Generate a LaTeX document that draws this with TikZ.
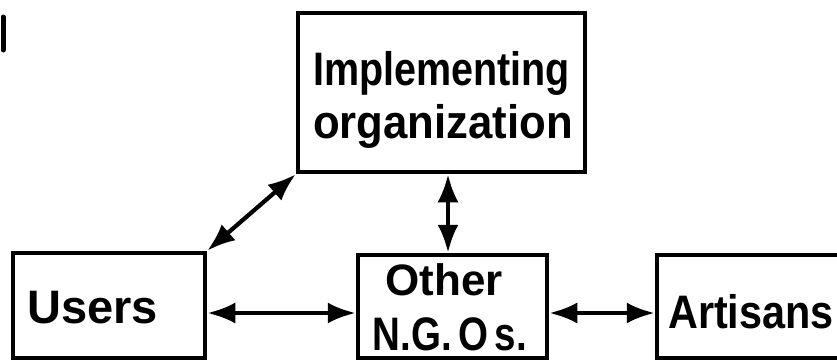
\documentclass[tikz,border=0pt]{standalone}
\usepackage{fontspec}
\newfontfamily\boxfont{Liberation Sans}
\usetikzlibrary{arrows.meta}
\begin{document}
\begin{tikzpicture}[x=1pt,y=1pt,
  box/.style={draw, line width=4.5pt, inner sep=0pt},
  lbl/.style={inner sep=0pt, font=\boxfont\bfseries\fontsize{47}{47}\selectfont},
  arr/.style={line width=4.2pt,
    {Latex[length=28pt,width=21pt]}-{Latex[length=28pt,width=21pt]}}]
\useasboundingbox (0,0) rectangle (837,360);
\clip (0,0) rectangle (837,360);

% boxes
\node[box, minimum width=287pt, minimum height=159pt] (impl) at (441.5,267.5) {};
\node[box, minimum width=192pt, minimum height=105pt] (users) at (109,54.5) {};
\node[box, minimum width=189pt, minimum height=103pt] (other) at (452.5,53.5) {};
\node[box, minimum width=213pt, minimum height=103pt] (art) at (763.5,53.5) {};

% labels
\node[lbl, anchor=base] (implA) at (441.5,275) {\scalebox{0.84}[1]{Implementing}};
\node[lbl, anchor=base] (implB) at (443,222) {\scalebox{0.93}[1]{organization}};
\node[lbl, anchor=base west] (usersT) at (27,37) {Users};
\node[lbl, anchor=base] (otherA) at (444,65) {\fontsize{44}{44}\selectfont Other};
\node[lbl, anchor=base] (otherB) at (450,10) {\scalebox{0.82}[1]{N.G.\,O\,s.}};
\node[lbl, anchor=base west] (artT) at (668,32) {\scalebox{0.88}[1]{Artisans}};

% connectors
\coordinate (vx) at (448,0);
\coordinate (hy) at (0,47);
\draw[arr] (users.north east) -- (impl.south west);
\draw[arr] (impl.south -| vx) -- (other.north -| vx);
\draw[arr] (users.east |- hy) -- (other.west |- hy);
\draw[arr] (other.east |- hy) -- (art.west |- hy);

% margin mark
\draw[line width=5pt, line cap=round] (3,343) -- (3,310);
\end{tikzpicture}
\end{document}
